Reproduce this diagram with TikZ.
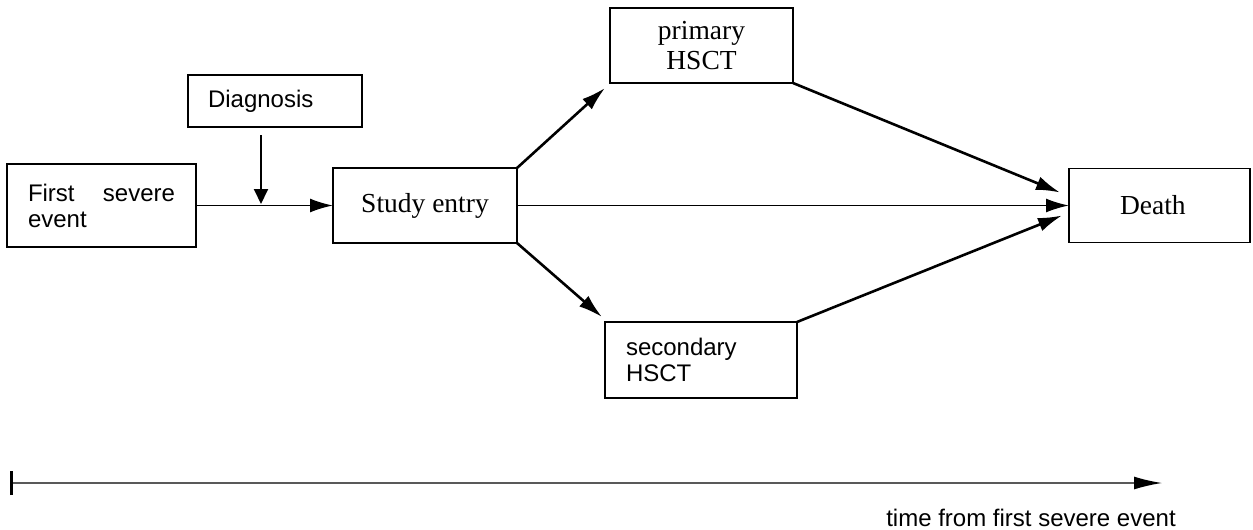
\documentclass[tikz,border=0pt]{standalone}
\usepackage{fontspec}
\setmainfont{Liberation Serif}
\newfontfamily\arialf{Liberation Sans}
\usetikzlibrary{arrows.meta}
\begin{document}
\begin{tikzpicture}[x=1pt,y=-1pt,
  box/.style={draw, line width=1.8pt, inner sep=0pt, outer sep=0pt},
  sansbox/.style={box, font=\arialf\fontsize{24}{26}\selectfont, align=left},
  serifbox/.style={box, font=\fontsize{27.5}{30}\selectfont, align=center},
  flow/.style={line width=2.6pt, -{Latex[length=24pt,width=14pt]}},
  hflow/.style={line width=1.8pt, -{Latex[length=23pt,width=14pt]}},
]
\useasboundingbox (0,0) rectangle (1253,530);

\node[sansbox, minimum width=189pt, minimum height=83pt, text width=147pt] (first) at (101.5,205.5)
  {\makebox[147pt][l]{First\hfill severe}\\event};
\node[sansbox, minimum width=174pt, minimum height=52pt, text width=134pt] (diag) at (275,101) {Diagnosis};
\node[serifbox, minimum width=184pt, minimum height=75pt] (study) at (425,205.5) {Study entry};
\node[serifbox, minimum width=183pt, minimum height=75pt] (primary) at (701.5,45.5) {primary\\HSCT};
\node[sansbox, minimum width=192pt, minimum height=76pt, text width=150pt] (secondary) at (701,360) {secondary\\HSCT};
\node[serifbox, minimum width=181pt, minimum height=74pt, text width=79pt, align=left] (death) at (1159.5,205.5) {Death};

\draw[hflow] (first.east) -- (study.west);
\coordinate (dstart) at (261,135);
\coordinate (dtip) at (261,204);
\draw[line width=2pt, -{Triangle[length=15pt,width=14pt]}] (dstart) -- (dtip);

\draw[flow] (study.north east) -- ([shift={(-5,5)}]primary.south west);
\draw[flow] (study.south east) -- ([shift={(-3,-5)}]secondary.north west);
\draw[hflow] (study.east) -- (death.west);
\draw[flow] (primary.south east) -- ([shift={(-9,-13)}]death.west);
\draw[flow] (secondary.north east) -- ([shift={(-7,10)}]death.west);

\coordinate (t0) at (11,483);
\coordinate (t1) at (1162,483);
\draw[line width=1.5pt, draw=black!65, -{Latex[length=28pt,width=13pt,color=black]}] (t0) -- (t1);
\draw[line width=3pt] ([yshift=-12]t0) -- ([yshift=12]t0);
\node[font=\arialf\fontsize{24}{26}\selectfont, inner sep=0pt] (tlab) at (1031,518) {time from first severe event};
\end{tikzpicture}
\end{document}
